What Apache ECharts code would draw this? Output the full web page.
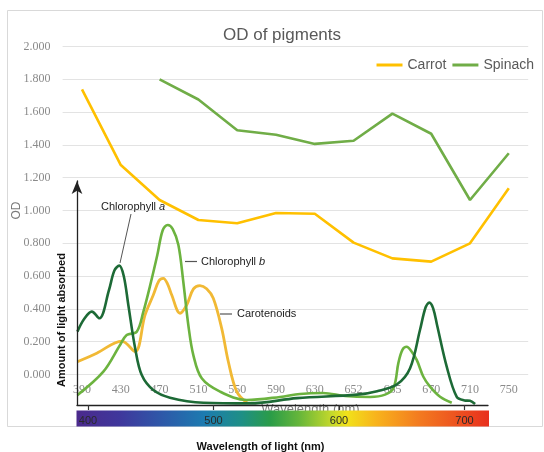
<!DOCTYPE html>
<html><head><meta charset="utf-8">
<script src="https://cdn.jsdelivr.net/npm/echarts@6/dist/echarts.min.js"></script>
<style>html,body{margin:0;padding:0;background:#fff}#c{width:544px;height:452px}</style>
</head><body><div id="c"></div>
<script>
// ---- main chart data (OD of pigments) ----
const categories = ['390','430','470','510','550','590','630','652','665','670','710','750'];
const carrot  = [1.739,1.277,1.064,0.942,0.922,0.985,0.980,0.804,0.708,0.688,0.800,1.135];
const spinach = [null,null,1.800,1.677,1.489,1.462,1.406,1.425,1.591,1.468,1.064,1.349];

// ---- pasted absorption-spectrum figure (wavelength nm, relative absorbance) ----
const spectrumTicks = [400,500,600,700];
const chlorophyllA = [[391.5,0.319],[397.0,0.375],[403.0,0.406],[409.0,0.377],[416.7,0.500],[421.0,0.585],[424.9,0.606],[428.5,0.560],[432.1,0.435],[437.5,0.248],[442.8,0.130],[452.0,0.065],[465.3,0.032],[491.9,0.010],[529.1,0.007],[566.5,0.030],[614.3,0.045],[630.3,0.060],[646.2,0.090],[656.6,0.160],[664.5,0.326],[669.0,0.425],[672.0,0.445],[675.0,0.420],[678.1,0.348],[685.8,0.167],[693.8,0.035],[700.0,0.020],[704.4,0.018],[708.4,0.004]];
const chlorophyllB = [[391.5,0.043],[412.2,0.145],[425.5,0.261],[430.8,0.304],[438.8,0.319],[444.1,0.406],[449.5,0.520],[455.2,0.652],[459.5,0.760],[463.5,0.783],[467.5,0.765],[472.0,0.696],[475.9,0.536],[479.9,0.348],[483.9,0.217],[490.6,0.116],[505.2,0.058],[526.5,0.022],[553.0,0.035],[568.9,0.048],[587.3,0.052],[604.8,0.039],[624.7,0.035],[636.7,0.045],[643.5,0.075],[647.3,0.183],[650.5,0.240],[653.9,0.253],[657.5,0.235],[661.9,0.196],[667.2,0.123],[672.5,0.080],[680.5,0.036],[689.8,0.010]];
const carotenoids = [[391.5,0.188],[406.9,0.225],[426.9,0.278],[437.5,0.232],[445.4,0.391],[452.0,0.478],[456.5,0.540],[460.0,0.551],[463.5,0.525],[466.7,0.478],[473.3,0.399],[478.6,0.435],[484.0,0.505],[489.2,0.519],[494.5,0.505],[499.8,0.464],[506.5,0.333],[511.8,0.188],[518.5,0.058],[526.7,0.009]];

const SANS = '"Liberation Sans", Arial, sans-serif';
const SERIF = '"Liberation Serif", "DejaVu Serif", serif';
const NARROW = '"Liberation Sans Narrow", "Liberation Sans", Arial, sans-serif';

const chart = echarts.init(document.getElementById('c'), null, {renderer:'canvas'});
chart.setOption({
  animation: false,
  backgroundColor: '#fff',
  title: {
    text: 'OD of pigments', left: 277, top: 22, textAlign: 'center',
    textStyle: {fontFamily: SANS, fontSize: 17, fontWeight: 'normal', color: '#595959'}
  },
  legend: {
    data: ['Carrot','Spinach'], orient: 'horizontal', right: 10, top: 58, padding: 0,
    icon: 'rect', itemWidth: 26, itemHeight: 3, itemGap: 6,
    textStyle: {fontFamily: SANS, fontSize: 14, color: '#595959'}
  },
  grid: [
    {left: 62.6, top: 46.5, width: 465.6, height: 328, containLabel: false, outerBoundsMode: 'none'},
    {left: 77, top: 181, width: 411, height: 224, containLabel: false, outerBoundsMode: 'none'}
  ],
  xAxis: [
    {
      type: 'category', gridIndex: 0, data: categories, boundaryGap: true,
      axisLine: {show: false}, axisTick: {show: false},
      axisLabel: {fontFamily: SERIF, fontSize: 12, color: '#8a8a8a', margin: 9},
      name: 'Wavelength (nm)', nameLocation: 'middle', nameGap: 28, nameMoveOverlap: false,
      nameTextStyle: {fontFamily: SANS, fontSize: 13, color: '#7a7a7a', padding: [0,0,0,30]},
      z: 0
    },
    {
      type: 'value', gridIndex: 1, min: 391.2, max: 718.7,
      axisLine: {show: true, lineStyle: {color: '#222', width: 1.3}},
      axisTick: {show: true, inside: false, length: 5, customValues: spectrumTicks, lineStyle: {color: '#333', width: 1.2}},
      axisLabel: {customValues: spectrumTicks, margin: 10, fontFamily: NARROW, fontSize: 11, color: '#2a2a2a'},
      splitLine: {show: false},
      name: 'Wavelength of light (nm)', nameLocation: 'middle', nameGap: 36,
      nameTextStyle: {fontFamily: NARROW, fontSize: 11, fontWeight: 'bold', color: '#111', padding: [0,44,0,0]},
      z: 10
    }
  ],
  yAxis: [
    {
      type: 'value', gridIndex: 0, min: 0, max: 2, interval: 0.2,
      axisLine: {show: false}, axisTick: {show: false},
      axisLabel: {fontFamily: SERIF, fontSize: 12, color: '#8a8a8a', margin: 12, formatter: v => v.toFixed(3)},
      splitLine: {lineStyle: {color: '#e3e3e3', width: 1}},
      name: 'OD', nameLocation: 'middle', nameGap: 40, nameMoveOverlap: false,
      nameTextStyle: {fontFamily: SANS, fontSize: 12, color: '#7a7a7a'},
      z: 0
    },
    {
      type: 'value', gridIndex: 1, min: 0, max: 0.974,
      axisLine: {show: true, symbol: ['none','arrow'], symbolSize: [8, 13], lineStyle: {color: '#222', width: 1.3}},
      axisTick: {show: false}, axisLabel: {show: false}, splitLine: {show: false},
      name: 'Amount of light absorbed', nameLocation: 'middle', nameGap: 10, nameRotate: 90,
      nameTextStyle: {fontFamily: NARROW, fontSize: 11, fontWeight: 'bold', color: '#111', padding: [0,54,0,0]},
      z: 10
    }
  ],
  graphic: [
    {type: 'rect', silent: true, z: -10, shape: {x: 7.5, y: 10.5, width: 535, height: 416},
     style: {fill: 'none', stroke: '#d9d9d9', lineWidth: 1}},
    {type: 'rect', silent: true, z: 5, shape: {x: 76.5, y: 410.5, width: 412.5, height: 16},
     style: {fill: {type: 'linear', x: 0, y: 0, x2: 1, y2: 0, colorStops: [
       {offset: 0, color: '#4b2a8c'}, {offset: 0.105, color: '#3f379c'}, {offset: 0.2, color: '#2f56a8'},
       {offset: 0.31, color: '#1c7bb0'}, {offset: 0.40, color: '#1e8f86'}, {offset: 0.47, color: '#2a9c48'},
       {offset: 0.54, color: '#66b63a'}, {offset: 0.62, color: '#c6d92b'}, {offset: 0.655, color: '#f1e21a'},
       {offset: 0.725, color: '#f8b41c'}, {offset: 0.83, color: '#f37b20'}, {offset: 1, color: '#e8301e'}]}}},
    {type: 'line', silent: true, z: 20, shape: {x1: 131, y1: 214, x2: 120, y2: 263}, style: {stroke: '#555', lineWidth: 1}},
    {type: 'line', silent: true, z: 20, shape: {x1: 185, y1: 261.5, x2: 197, y2: 261.5}, style: {stroke: '#555', lineWidth: 1.2}},
    {type: 'line', silent: true, z: 20, shape: {x1: 220, y1: 314, x2: 232, y2: 314}, style: {stroke: '#555', lineWidth: 1.2}},
    {type: 'text', silent: true, z: 20, x: 101, y: 207,
     style: {text: '{n|Chlorophyll }{i|a}', verticalAlign: 'middle', rich: {
       n: {fontFamily: NARROW, fontSize: 11, fill: '#222'}, i: {fontFamily: NARROW, fontSize: 11, fontStyle: 'italic', fill: '#222'}}}},
    {type: 'text', silent: true, z: 20, x: 201, y: 262,
     style: {text: '{n|Chlorophyll }{i|b}', verticalAlign: 'middle', rich: {
       n: {fontFamily: NARROW, fontSize: 11, fill: '#222'}, i: {fontFamily: NARROW, fontSize: 11, fontStyle: 'italic', fill: '#222'}}}},
    {type: 'text', silent: true, z: 20, x: 237, y: 314,
     style: {text: 'Carotenoids', verticalAlign: 'middle', fontFamily: NARROW, fontSize: 11, fill: '#222'}}
  ],
  series: [
    {name: 'Carrot', type: 'line', xAxisIndex: 0, yAxisIndex: 0, data: carrot, symbol: 'none',
     color: '#FFC000', lineStyle: {width: 2.6, color: '#FFC000'}, z: 2},
    {name: 'Spinach', type: 'line', xAxisIndex: 0, yAxisIndex: 0, data: spinach, symbol: 'none',
     color: '#70AD47', lineStyle: {width: 2.6, color: '#70AD47'}, z: 2},
    {name: 'Carotenoids', type: 'line', xAxisIndex: 1, yAxisIndex: 1, data: carotenoids, symbol: 'none',
     smooth: 0.35, lineStyle: {width: 2.8, color: '#f1b935'}, z: 3},
    {name: 'Chlorophyll b', type: 'line', xAxisIndex: 1, yAxisIndex: 1, data: chlorophyllB, symbol: 'none',
     smooth: 0.35, lineStyle: {width: 2.6, color: '#6cb33f'}, z: 4},
    {name: 'Chlorophyll a', type: 'line', xAxisIndex: 1, yAxisIndex: 1, data: chlorophyllA, symbol: 'none',
     smooth: 0.35, lineStyle: {width: 2.6, color: '#1d6a36'}, z: 5}
  ]
});
</script></body></html>
